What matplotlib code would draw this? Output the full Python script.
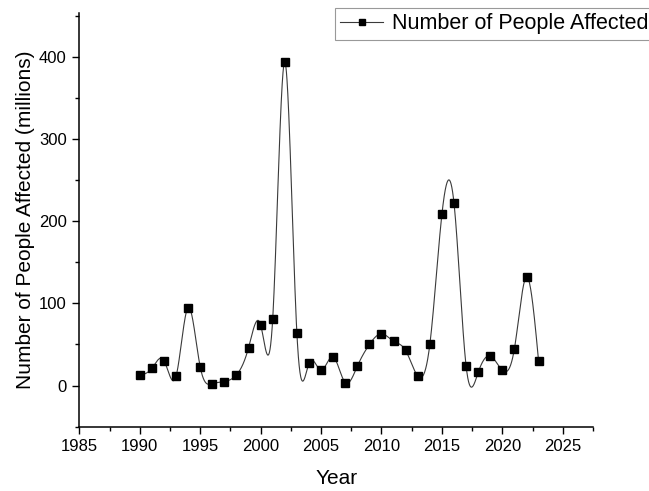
import numpy as np
import matplotlib
matplotlib.use("Agg")
import matplotlib.pyplot as plt
from matplotlib.ticker import MultipleLocator

plt.rcParams['font.family'] = ['Liberation Sans', 'DejaVu Sans']

### Data
years = np.arange(1990, 2024)
affected = [12.6, 21, 30.5, 11.3, 95, 23, 2.4, 4.9, 13, 46,
            74, 81, 394, 64, 27, 18.7, 35, 3.7, 23.5, 50,
            63, 54, 42.7, 11.7, 50, 208.5, 222, 24, 16, 36,
            18.7, 45, 132.4, 29.6]


def natural_spline(x, y, n=2000):
    # natural cubic spline through all points (like Origin's "Spline" line)
    x = np.asarray(x, float)
    y = np.asarray(y, float)
    k = len(x)
    h = np.diff(x)
    A = np.zeros((k, k))
    b = np.zeros(k)
    A[0, 0] = A[-1, -1] = 1.0
    for i in range(1, k - 1):
        A[i, i - 1] = h[i - 1]
        A[i, i] = 2 * (h[i - 1] + h[i])
        A[i, i + 1] = h[i]
        b[i] = 6 * ((y[i + 1] - y[i]) / h[i] - (y[i] - y[i - 1]) / h[i - 1])
    M = np.linalg.solve(A, b)
    xs = np.linspace(x[0], x[-1], n)
    idx = np.clip(np.searchsorted(x, xs) - 1, 0, k - 2)
    x0, x1 = x[idx], x[idx + 1]
    hh = x1 - x0
    t0, t1 = x1 - xs, xs - x0
    ys = (M[idx] * t0 ** 3 / (6 * hh) + M[idx + 1] * t1 ** 3 / (6 * hh)
          + (y[idx] / hh - M[idx] * hh / 6) * t0
          + (y[idx + 1] / hh - M[idx + 1] * hh / 6) * t1)
    return xs, ys


xs, ys = natural_spline(years, affected)

fig = plt.figure(figsize=(6.49, 4.91), dpi=100)
ax = fig.add_axes([0.1222, 0.131, 0.7915, 0.842])

ax.plot(xs, ys, color='#3a3a3a', lw=0.8, zorder=2)
ax.plot(years, affected, ls='none', marker='s', ms=6.3, color='black', zorder=3)

# legend proxy: line + marker
ax.plot([], [], color='#3a3a3a', lw=0.8, marker='s', ms=3.8, mfc='black', mec='black',
        label='Number of People Affected')
leg = fig.legend(loc='upper left', bbox_to_anchor=(335 / 649, 1 - 8 / 491), frameon=True,
                 fancybox=False, fontsize=15.5, handlelength=2.0, handletextpad=0.4,
                 borderpad=0.25, borderaxespad=0)
leg.get_frame().set_edgecolor('#808080')
leg.get_frame().set_linewidth(0.8)

ax.set_xlim(1985, 2027.5)
ax.set_ylim(-50, 453)
ax.xaxis.set_major_locator(MultipleLocator(5))
ax.xaxis.set_minor_locator(MultipleLocator(2.5))
ax.yaxis.set_major_locator(MultipleLocator(100))
ax.yaxis.set_minor_locator(MultipleLocator(50))

for s in ['top', 'right']:
    ax.spines[s].set_visible(False)
for s in ['left', 'bottom']:
    ax.spines[s].set_linewidth(1.1)
ax.tick_params(which='major', direction='out', length=5, width=1.0, labelsize=12, pad=4)
ax.tick_params(which='minor', direction='out', length=2.6, width=1.0)

ax.set_xlabel('Year', fontsize=15, labelpad=11)
ax.set_ylabel('Number of People Affected (millions)', fontsize=15, labelpad=3)

fig.savefig('out.png', dpi=100)
